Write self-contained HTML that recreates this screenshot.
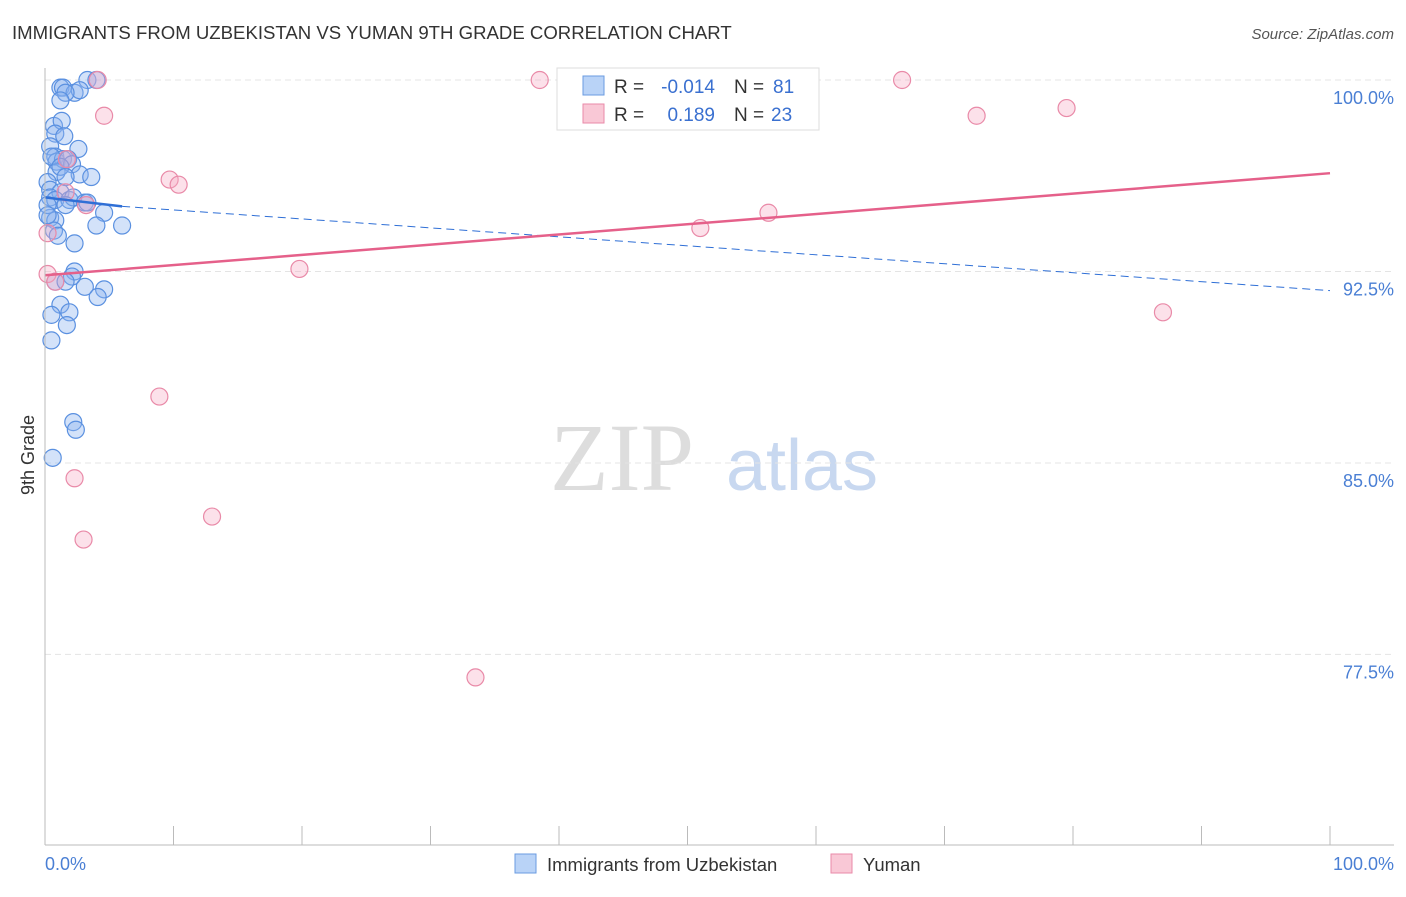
<!DOCTYPE html>
<html><head><meta charset="utf-8"><style>
body{margin:0;background:#fff;font-family:"Liberation Sans",sans-serif}
</style></head><body>
<svg id="c" width="1406" height="892" xmlns="http://www.w3.org/2000/svg">
<text x="12" y="39" font-size="18.6" fill="#333">IMMIGRANTS FROM UZBEKISTAN VS YUMAN 9TH GRADE CORRELATION CHART</text>
<text x="1394" y="39" font-size="15" fill="#555" text-anchor="end" font-style="italic">Source: ZipAtlas.com</text>
<text x="622" y="490" font-size="96" fill="#ddd" font-family="Liberation Serif,serif" text-anchor="middle">ZIP</text>
<text x="802" y="490" font-size="72" fill="#c8d8f0" text-anchor="middle">atlas</text>
<text transform="translate(34,455) rotate(-90)" font-size="18" fill="#333" text-anchor="middle">9th Grade</text>
<g id="grid"></g><g id="pts"></g><g id="lines"></g>
<line x1="45" y1="68" x2="45" y2="845" stroke="#bbb"/>
<line x1="45" y1="845" x2="1394" y2="845" stroke="#bbb"/>
<text x="45" y="870" font-size="18" fill="#4a7fd4">0.0%</text>
<text x="1394" y="870" font-size="18" fill="#4a7fd4" text-anchor="end">100.0%</text>
<g>
<rect x="557" y="68" width="262" height="62" fill="#fff" stroke="#ddd"/>
<rect x="583" y="76" width="21" height="19" fill="#b9d3f7" stroke="#6a9be0"/>
<rect x="583" y="104" width="21" height="19" fill="#f9c8d6" stroke="#e98aa8"/>
<text x="614" y="93" font-size="19" fill="#333">R =</text>
<text x="715" y="93" font-size="19" fill="#3a70d0" text-anchor="end">-0.014</text>
<text x="734" y="93" font-size="19" fill="#333">N =</text>
<text x="773" y="93" font-size="19" fill="#3a70d0">81</text>
<text x="614" y="121" font-size="19" fill="#333">R =</text>
<text x="715" y="121" font-size="19" fill="#3a70d0" text-anchor="end">0.189</text>
<text x="734" y="121" font-size="19" fill="#333">N =</text>
<text x="771" y="121" font-size="19" fill="#3a70d0">23</text>
</g>
<g>
<rect x="515" y="854" width="21" height="19" fill="#b9d3f7" stroke="#6a9be0"/>
<text x="547" y="871" font-size="18.5" fill="#333">Immigrants from Uzbekistan</text>
<rect x="831" y="854" width="21" height="19" fill="#f9c8d6" stroke="#e98aa8"/>
<text x="863" y="871" font-size="18.5" fill="#333">Yuman</text>
</g>
</svg>
<script>
const yTicks=[100,92.5,85,77.5];
const yTickLabels=["100.0%","92.5%","85.0%","77.5%"];
const blueX=[3.3,4.0,1.2,1.4,2.3,2.7,1.6,1.2,0.7,1.3,0.8,1.5,2.6,0.4,0.8,0.9,1.4,1.8,2.1,2.7,3.6,0.9,0.2,0.4,1.2,0.4,0.8,1.9,2.2,3.1,1.6,4.6,0.4,0.8,4.0,6.0,0.7,1.0,2.3,2.3,2.1,0.8,1.6,3.1,4.6,4.1,1.2,1.9,0.5,1.7,0.5,2.2,2.4,0.6,0.2,0.2,0.5,1.2,1.6,3.3];
const blueY=[100,100,99.7,99.7,99.5,99.6,99.5,99.2,98.2,98.4,97.9,97.8,97.3,97.4,97.0,96.8,96.9,96.9,96.7,96.3,96.2,96.4,96.0,95.7,95.6,95.4,95.3,95.3,95.4,95.2,95.1,94.8,94.6,94.5,94.3,94.3,94.1,93.9,93.6,92.5,92.3,92.1,92.1,91.9,91.8,91.5,91.2,90.9,90.8,90.4,89.8,86.6,86.3,85.2,95.1,94.7,97.0,96.6,96.2,95.2];
const pinkX=[4.1,38.5,66.7,4.6,72.5,79.5,9.7,10.4,1.7,1.6,3.2,51.0,56.3,0.2,0.8,19.8,87.0,8.9,2.3,13.0,3.0,33.5,0.2];
const pinkY=[100,100,100,98.6,98.6,98.9,96.1,95.9,96.9,95.6,95.1,94.2,94.8,92.4,92.1,92.6,90.9,87.6,84.4,82.9,82.0,76.6,94.0];
const X=v=>45+v*12.85, Y=v=>80+(100-v)*25.53;
const NS="http://www.w3.org/2000/svg";
function mk(p,t,a){const e=document.createElementNS(NS,t);for(const k in a)e.setAttribute(k,a[k]);p.appendChild(e);return e;}
const grid=document.getElementById('grid'),pts=document.getElementById('pts'),ln=document.getElementById('lines');
yTicks.forEach((t,i)=>{
 const l=mk(grid,'line',{x1:45,x2:1394,y1:Y(t),y2:Y(t),stroke:'#e4e4e4','stroke-dasharray':'6,4'});
 
 
 const tx=mk(grid,'text',{x:1394,y:Y(t)+24,'font-size':18,fill:'#4a7fd4','text-anchor':'end'});
 tx.textContent=yTickLabels[i];
 
 
});
for(let i=1;i<=10;i++){const l=mk(grid,'line',{x1:X(i*10),x2:X(i*10),y1:826,y2:845,stroke:'#bbb'});
 
 }
blueX.forEach((v,i)=>{const c=mk(pts,'circle',{cx:X(v),cy:Y(blueY[i]),r:8.5,fill:'rgba(140,180,240,0.38)',stroke:'#5a90e0','stroke-width':1.2});
 
 });
pinkX.forEach((v,i)=>{const c=mk(pts,'circle',{cx:X(v),cy:Y(pinkY[i]),r:8.5,fill:'rgba(245,170,195,0.35)',stroke:'#e98aa8','stroke-width':1.2});
 
 });
const b1=mk(ln,'line',{x1:X(0),y1:Y(95.4),x2:X(6),y2:Y(95.05),stroke:'#2f6fd6','stroke-width':2.5});


const b2=mk(ln,'line',{x1:X(6),y1:Y(95.05),x2:X(100),y2:Y(91.75),stroke:'#2f6fd6','stroke-width':1,'stroke-dasharray':'8,5'});


const p1=mk(ln,'line',{x1:X(0),y1:Y(92.35),x2:X(100),y2:Y(96.35),stroke:'#e5608a','stroke-width':2.5});


</script>
</body></html>
